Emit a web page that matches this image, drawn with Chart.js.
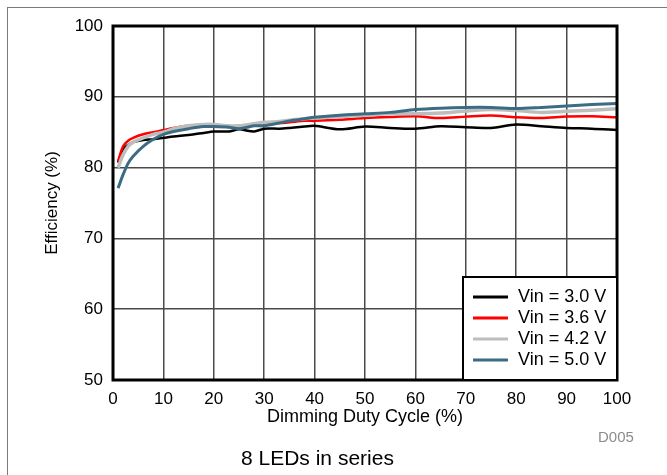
<!DOCTYPE html>
<html>
<head>
<meta charset="utf-8">
<script src="https://cdn.jsdelivr.net/npm/chart.js@4.4.1/dist/chart.umd.min.js"></script>
<style>
  html, body { margin: 0; padding: 0; background: #fff; }
  #wrap { position: relative; width: 667px; height: 475px; overflow: hidden; }
  #frame { position: absolute; left: 7px; top: 7px; right: -2px; bottom: -2px;
           border-top: 1px solid #7a7a7a; border-left: 1px solid #7a7a7a; }
  #code { position: absolute; left: 598px; top: 428px; font: 15px "Liberation Sans", Arial, sans-serif; color: #8c8c8c; }
  #caption { position: absolute; left: 241px; top: 446px; white-space: nowrap;
             font: 21px "Liberation Sans", Arial, sans-serif; color: #000; }
  canvas { position: absolute; left: 0; top: 0; }
</style>
</head>
<body>
<div id="wrap">
  <div id="frame"></div>
  <canvas id="eff" width="667" height="475"></canvas>
  <div id="code">D005</div>
  <div id="caption">8 LEDs in series</div>
</div>
<script>
// duty cycle (%) sample points
const duty = [1, 2, 3, 4, 6, 8, 10, 12, 15, 18, 20, 23, 25, 28, 30, 33, 35, 38, 40, 45, 50, 55, 60, 65, 70, 75, 80, 85, 90, 95, 100];

// efficiency (%) per input voltage
const vin30 = [80.7, 82.6, 83.2, 83.6, 83.9, 84.0, 84.2, 84.4, 84.6, 84.9, 85.1, 85.1, 85.4, 85.1, 85.5, 85.5, 85.6, 85.8, 85.9, 85.4, 85.8, 85.6, 85.5, 85.85, 85.7, 85.6, 86.1, 85.85, 85.6, 85.5, 85.3];
const vin36 = [80.9, 83.0, 83.8, 84.2, 84.7, 85.0, 85.3, 85.6, 85.9, 86.0, 86.0, 85.8, 85.8, 86.1, 86.3, 86.3, 86.4, 86.6, 86.6, 86.75, 87.0, 87.15, 87.25, 87.0, 87.2, 87.35, 87.1, 87.0, 87.2, 87.25, 87.1];
const vin42 = [80.0, 81.8, 83.0, 83.6, 84.2, 84.7, 85.0, 85.5, 85.9, 86.1, 86.1, 85.9, 85.9, 86.2, 86.4, 86.5, 86.7, 86.9, 87.0, 87.2, 87.4, 87.6, 87.6, 87.7, 88.0, 88.2, 88.05, 87.8, 87.95, 88.1, 88.3];
const vin50 = [77.1, 79.0, 80.6, 81.6, 83.0, 84.0, 84.7, 85.1, 85.5, 85.8, 85.8, 85.7, 85.5, 85.9, 85.9, 86.3, 86.6, 86.9, 87.1, 87.4, 87.6, 87.8, 88.2, 88.4, 88.5, 88.5, 88.35, 88.5, 88.7, 88.9, 89.05];

const seriesNames = ['Vin = 3.0 V', 'Vin = 3.6 V', 'Vin = 4.2 V', 'Vin = 5.0 V'];
const xTicks = [0, 10, 20, 30, 40, 50, 60, 70, 80, 90, 100];
const yTicks = [50, 60, 70, 80, 90, 100];

const FONT = '"Liberation Sans", Arial, sans-serif';

function pts(ys) { return duty.map((x, k) => ({ x: x, y: ys[k] })); }

// frame around plot + legend box
const boxPlugin = {
  id: 'boxes',
  afterDatasetsDraw(chart) {
    const c = chart.ctx, a = chart.chartArea;
    c.save();
    c.strokeStyle = '#000';
    c.lineWidth = 3;
    c.strokeRect(a.left, a.top, a.right - a.left, a.bottom - a.top);

    // legend
    const lx = a.right - 154, ly = a.bottom - 103;
    c.fillStyle = '#fff';
    c.fillRect(lx, ly, 154, 103);
    c.lineWidth = 2;
    c.strokeRect(lx, ly, 154, 103);
    c.font = '18px ' + FONT;
    c.textBaseline = 'middle';
    chart.data.datasets.forEach((ds, k) => {
      const y = ly + 20 + k * 21;
      c.strokeStyle = ds.borderColor;
      c.lineWidth = 3;
      c.beginPath();
      c.moveTo(lx + 10, y);
      c.lineTo(lx + 45, y);
      c.stroke();
      c.fillStyle = '#000';
      c.fillText(ds.label, lx + 55, y);
    });
    c.restore();
  }
};

const colors = ['#000000', '#ff0000', '#bdbdbd', '#3b6c84'];
const widths = [2.5, 2.5, 3.5, 3];
const drawOrder = [3, 2, 1, 0];   // blue on top

new Chart(document.getElementById('eff'), {
  type: 'line',
  data: {
    datasets: [vin30, vin36, vin42, vin50].map((ys, k) => ({
      label: seriesNames[k],
      data: pts(ys),
      borderColor: colors[k],
      borderWidth: widths[k],
      order: drawOrder[k],
      pointRadius: 0,
      tension: 0.3,
      fill: false
    }))
  },
  options: {
    responsive: false,
    animation: false,
    layout: { padding: { left: 0, right: 50, top: 26, bottom: 0 } },
    plugins: { legend: { display: false }, tooltip: { enabled: false } },
    scales: {
      x: {
        type: 'linear',
        min: 0, max: 100,
        afterFit(s) { s.height = 95; },
        afterBuildTicks(s) { s.ticks = xTicks.map(v => ({ value: v })); },
        grid: { color: '#4a4a4a', lineWidth: 1.5, drawTicks: false },
        border: { display: false },
        ticks: { color: '#000', font: { family: FONT, size: 17 }, padding: 9, maxRotation: 0 },
        title: { display: true, text: 'Dimming Duty Cycle (%)', color: '#000',
                 font: { family: FONT, size: 18 }, padding: { top: 0, bottom: 47 } }
      },
      y: {
        min: 50, max: 100,
        afterFit(s) { s.width = 113; },
        afterBuildTicks(s) { s.ticks = yTicks.map(v => ({ value: v })); },
        grid: { color: '#4a4a4a', lineWidth: 1.5, drawTicks: false },
        border: { display: false },
        ticks: { color: '#000', font: { family: FONT, size: 17 }, padding: 10 },
        title: { display: true, text: 'Efficiency (%)', color: '#000',
                 font: { family: FONT, size: 17 }, padding: { top: 42, bottom: 0 } }
      }
    }
  },
  plugins: [boxPlugin]
});
</script>
</body>
</html>
